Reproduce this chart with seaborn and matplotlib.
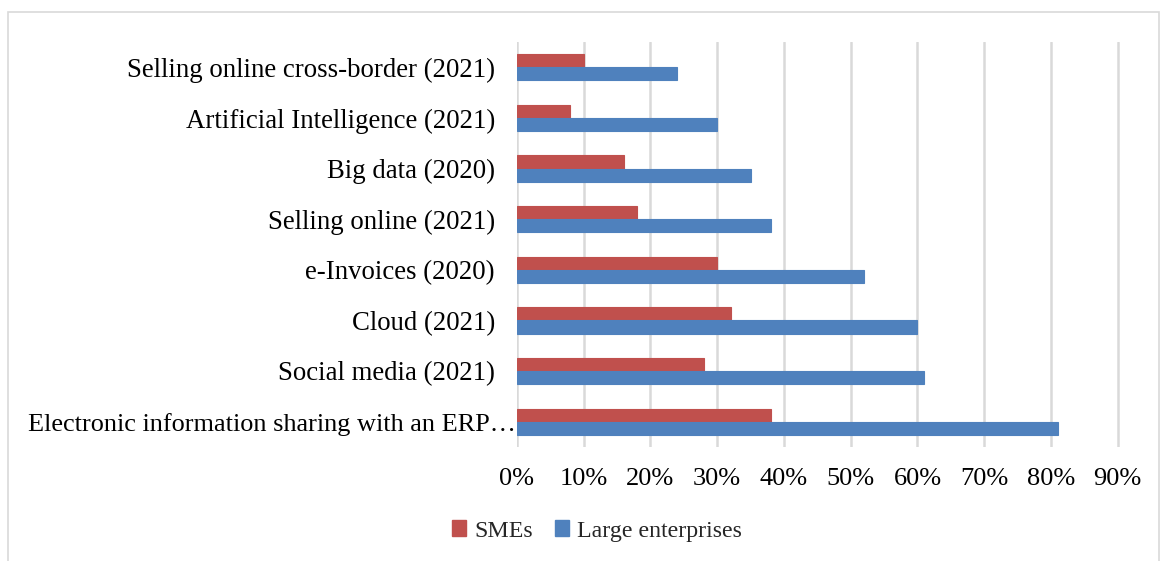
import matplotlib
matplotlib.use("Agg")
import matplotlib.pyplot as plt
from matplotlib.patches import Rectangle, Patch
from matplotlib.ticker import PercentFormatter
from matplotlib.transforms import ScaledTranslation
import seaborn as sns
import pandas as pd

categories = [
    "Selling online cross-border (2021)",
    "Artificial Intelligence (2021)",
    "Big data (2020)",
    "Selling online (2021)",
    "e-Invoices (2020)",
    "Cloud (2021)",
    "Social media (2021)",
    "Electronic information sharing with an ERP…",
]
smes = [10, 8, 16, 18, 30, 32, 28, 38]
large = [24, 30, 35, 38, 52, 60, 61, 81]
series = ["SMEs", "Large enterprises"]
colors = ["#C0504D", "#4F81BD"]
xticks = list(range(0, 100, 10))

df = pd.DataFrame({
    "category": categories * 2,
    "value": smes + large,
    "series": [series[0]] * len(categories) + [series[1]] * len(categories),
})

sns.set_theme(style="white")
plt.rcParams["font.family"] = ["Liberation Serif", "DejaVu Serif"]

fig = plt.figure(figsize=(11.61, 5.61), dpi=100)
ax = fig.add_axes([517 / 1161, 1 - 447 / 561, (1121 - 517) / 1161, (447 - 42) / 561])

sns.barplot(data=df, y="category", x="value", hue="series", order=categories,
            hue_order=series, palette=colors, orient="h", width=0.52,
            saturation=1, linewidth=0.8, edgecolor="white", ax=ax, legend=False)
for bar_group, col in zip(ax.containers, colors):
    for b in bar_group:
        b.set_edgecolor(col)
        b.set_alpha(1)

ax.set_xlim(0, 90.5)
ax.set_ylim(len(categories) - 0.5, -0.5)
ax.set_xticks(xticks)
ax.xaxis.set_major_formatter(PercentFormatter(decimals=0))
ax.grid(axis="x", color="#D9D9D9", linewidth=1.8)
ax.set_axisbelow(True)
for s in ax.spines.values():
    s.set_visible(False)
ax.set_xlabel("")
ax.set_ylabel("")
ax.tick_params(axis="y", length=0, pad=16, labelsize=19.3, labelcolor="black")
ax.tick_params(axis="x", length=0, pad=15, labelsize=19, labelcolor="black")

# the truncated long label runs up to the axis edge
fig.canvas.draw()
long_label = ax.get_yticklabels()[-1]
long_label.set_fontsize(18.9)
long_label.set_transform(long_label.get_transform()
                         + ScaledTranslation(0.21, 0, fig.dpi_scale_trans))

handles = [Patch(facecolor=c, edgecolor=c) for c in colors]
fig.legend(handles, series, loc="center", bbox_to_anchor=(597 / 1161, 1 - 531 / 561),
           ncol=2, frameon=False, fontsize=17.2, handlelength=0.6, handleheight=0.6,
           handletextpad=0.35, columnspacing=0.9)

fig.add_artist(Rectangle((8 / 1161, -0.01), (1159 - 8) / 1161, 1 - 12 / 561 + 0.01,
                         transform=fig.transFigure, fill=False,
                         edgecolor="#D9D9D9", linewidth=1.2))

fig.savefig("out.png", dpi=100, facecolor="white")
